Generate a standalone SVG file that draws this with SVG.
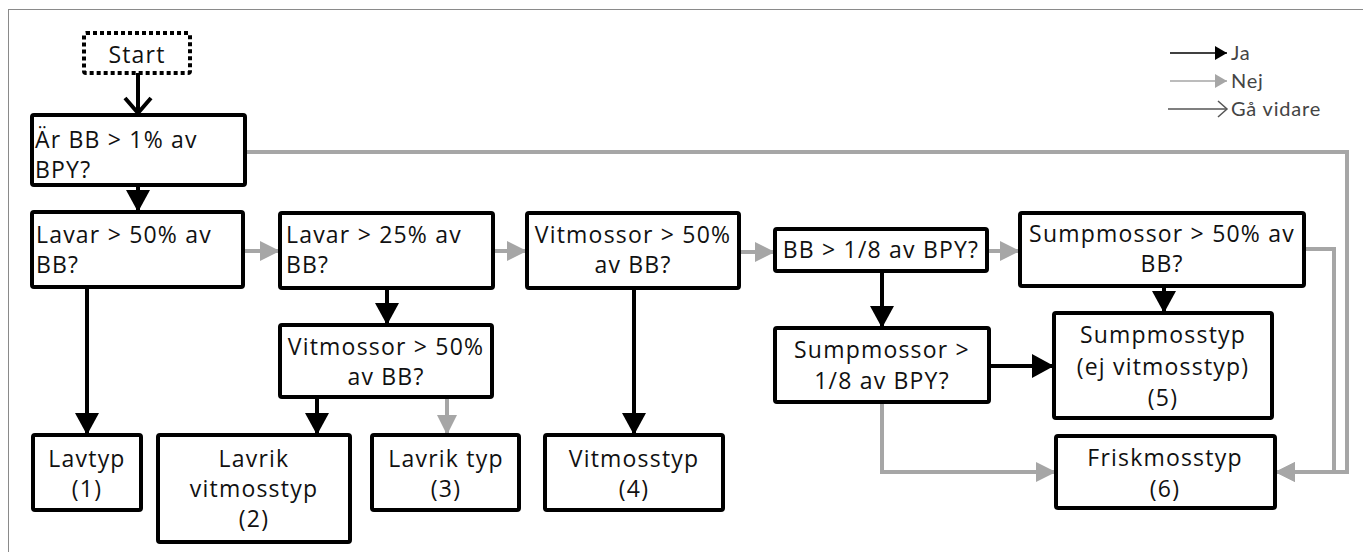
<svg xmlns="http://www.w3.org/2000/svg" width="1363" height="552" viewBox="0 0 1363 552">
<style>
.box{fill:#fff;stroke:#000;stroke-width:4}
.t{font-family:"Open Sans","Liberation Sans",sans-serif;font-size:23px;letter-spacing:1.2px;fill:#111}
.c{text-anchor:middle}
.yes{fill:none;stroke:#000;stroke-width:4;marker-end:url(#mb)}
.no{fill:none;stroke:#a6a6a6;stroke-width:4;marker-end:url(#mg)}
.lg{font-family:"Lato","Liberation Sans",sans-serif;font-size:20px;letter-spacing:0.8px;fill:#444}
</style>
<defs>
<marker id="mb" markerUnits="userSpaceOnUse" markerWidth="23" markerHeight="24" refX="22" refY="12" orient="auto"><path d="M0,0 L22,12 L0,24 z" fill="#000"/></marker>
<marker id="mg" markerUnits="userSpaceOnUse" markerWidth="21" markerHeight="20" refX="20" refY="10" orient="auto"><path d="M0,0 L20,10 L0,20 z" fill="#a6a6a6"/></marker>
<marker id="mo" markerUnits="userSpaceOnUse" markerWidth="20" markerHeight="30" refX="17" refY="15" orient="auto"><path d="M2,2 L17,15 L2,28" fill="none" stroke="#000" stroke-width="4"/></marker>
<marker id="lb" markerUnits="userSpaceOnUse" markerWidth="13" markerHeight="14" refX="12" refY="7" orient="auto"><path d="M0,0 L12,7 L0,14 z" fill="#000"/></marker>
<marker id="lgm" markerUnits="userSpaceOnUse" markerWidth="13" markerHeight="14" refX="12" refY="7" orient="auto"><path d="M0,0 L12,7 L0,14 z" fill="#a6a6a6"/></marker>
<marker id="lo" markerUnits="userSpaceOnUse" markerWidth="12" markerHeight="18" refX="10" refY="9" orient="auto"><path d="M1,1 L10,9 L1,17" fill="none" stroke="#555" stroke-width="1.5"/></marker>
</defs>
<rect x="8.5" y="9.5" width="1362" height="552" fill="#fff" stroke="#8a8a8a" stroke-width="1"/>

<g id="legend">
<line x1="1170" y1="53" x2="1227" y2="53" stroke="#000" stroke-width="1.5" marker-end="url(#lb)"/>
<text class="lg" x="1231" y="60">Ja</text>
<line x1="1170" y1="81" x2="1227" y2="81" stroke="#a6a6a6" stroke-width="1.5" marker-end="url(#lgm)"/>
<text class="lg" x="1231" y="88">Nej</text>
<line x1="1168" y1="109" x2="1227" y2="109" stroke="#555" stroke-width="1.5" marker-end="url(#lo)"/>
<text class="lg" x="1231" y="116">Gå vidare</text>
</g>

<g id="connectors">
<line x1="138" y1="73" x2="138" y2="113" fill="none" stroke="#000" stroke-width="4" marker-end="url(#mo)"/>
<line class="yes" x1="138" y1="185" x2="138" y2="212"/>
<line class="no" x1="243" y1="251" x2="280" y2="251"/>
<line class="no" x1="493" y1="251" x2="527" y2="251"/>
<line class="no" x1="739" y1="252" x2="775" y2="252"/>
<line class="no" x1="987" y1="251" x2="1020" y2="251"/>
<line class="yes" x1="387" y1="288" x2="387" y2="325"/>
<line class="yes" x1="87" y1="287" x2="87" y2="435"/>
<line class="yes" x1="317" y1="397" x2="317" y2="435"/>
<line class="no" x1="447" y1="397" x2="447" y2="435"/>
<line class="yes" x1="634" y1="288" x2="634" y2="435"/>
<line class="yes" x1="882" y1="271" x2="882" y2="328"/>
<line class="yes" x1="1164" y1="286" x2="1164" y2="313"/>
<line class="yes" x1="989" y1="366" x2="1054" y2="366"/>
<polyline class="no" points="882,402 882,472 1056,472"/>
<polyline class="no" points="1304,249 1334,249 1334,472 1275,472"/>
<polyline class="no" points="245,152 1347,152 1347,472 1275,472"/>
</g>

<g id="start">
<rect x="84" y="33" width="106" height="40" rx="2" fill="#fff" stroke="#000" stroke-width="4" stroke-dasharray="4 3"/>
<text class="t c" x="137" y="63">Start</text>
</g>
<g id="q1">
<rect class="box" x="32" y="115" width="213" height="70" rx="2"/>
<text class="t" x="35" y="148">Är BB &gt; 1% av</text>
<text class="t" x="35" y="178">BPY?</text>
</g>
<g id="q2">
<rect class="box" x="32" y="212" width="211" height="75" rx="2"/>
<text class="t" x="36" y="243">Lavar &gt; 50% av</text>
<text class="t" x="36" y="273">BB?</text>
</g>
<g id="q3">
<rect class="box" x="280" y="213" width="213" height="75" rx="2"/>
<text class="t" x="286" y="243">Lavar &gt; 25% av</text>
<text class="t" x="286" y="273">BB?</text>
</g>
<g id="q4">
<rect class="box" x="527" y="213" width="212" height="75" rx="2"/>
<text class="t c" x="633" y="243">Vitmossor &gt; 50%</text>
<text class="t c" x="633" y="273">av BB?</text>
</g>
<g id="q5">
<rect class="box" x="775" y="229" width="212" height="42" rx="2"/>
<text class="t c" x="881" y="258">BB &gt; 1/8 av BPY?</text>
</g>
<g id="q6">
<rect class="box" x="1020" y="213" width="284" height="73" rx="2"/>
<text class="t c" x="1162" y="242">Sumpmossor &gt; 50% av</text>
<text class="t c" x="1162" y="272">BB?</text>
</g>
<g id="q7">
<rect class="box" x="280" y="325" width="212" height="72" rx="2"/>
<text class="t c" x="386" y="355">Vitmossor &gt; 50%</text>
<text class="t c" x="386" y="385">av BB?</text>
</g>
<g id="q8">
<rect class="box" x="775" y="328" width="214" height="74" rx="2"/>
<text class="t c" x="882" y="358">Sumpmossor &gt;</text>
<text class="t c" x="882" y="389">1/8 av BPY?</text>
</g>
<g id="r5">
<rect class="box" x="1054" y="313" width="218" height="105" rx="2"/>
<text class="t c" x="1163" y="343">Sumpmosstyp</text>
<text class="t c" x="1163" y="375">(ej vitmosstyp)</text>
<text class="t c" x="1163" y="406">(5)</text>
</g>
<g id="r1">
<rect class="box" x="33" y="435" width="108" height="75" rx="2"/>
<text class="t c" x="87" y="467">Lavtyp</text>
<text class="t c" x="87" y="497">(1)</text>
</g>
<g id="r2">
<rect class="box" x="158" y="435" width="192" height="107" rx="2"/>
<text class="t c" x="254" y="467">Lavrik</text>
<text class="t c" x="254" y="497">vitmosstyp</text>
<text class="t c" x="254" y="527">(2)</text>
</g>
<g id="r3">
<rect class="box" x="372" y="435" width="147" height="75" rx="2"/>
<text class="t c" x="446" y="467">Lavrik typ</text>
<text class="t c" x="446" y="497">(3)</text>
</g>
<g id="r4">
<rect class="box" x="545" y="435" width="178" height="75" rx="2"/>
<text class="t c" x="634" y="467">Vitmosstyp</text>
<text class="t c" x="634" y="497">(4)</text>
</g>
<g id="r6">
<rect class="box" x="1056" y="436" width="219" height="72" rx="2"/>
<text class="t c" x="1165" y="466">Friskmosstyp</text>
<text class="t c" x="1165" y="497">(6)</text>
</g>
</svg>
